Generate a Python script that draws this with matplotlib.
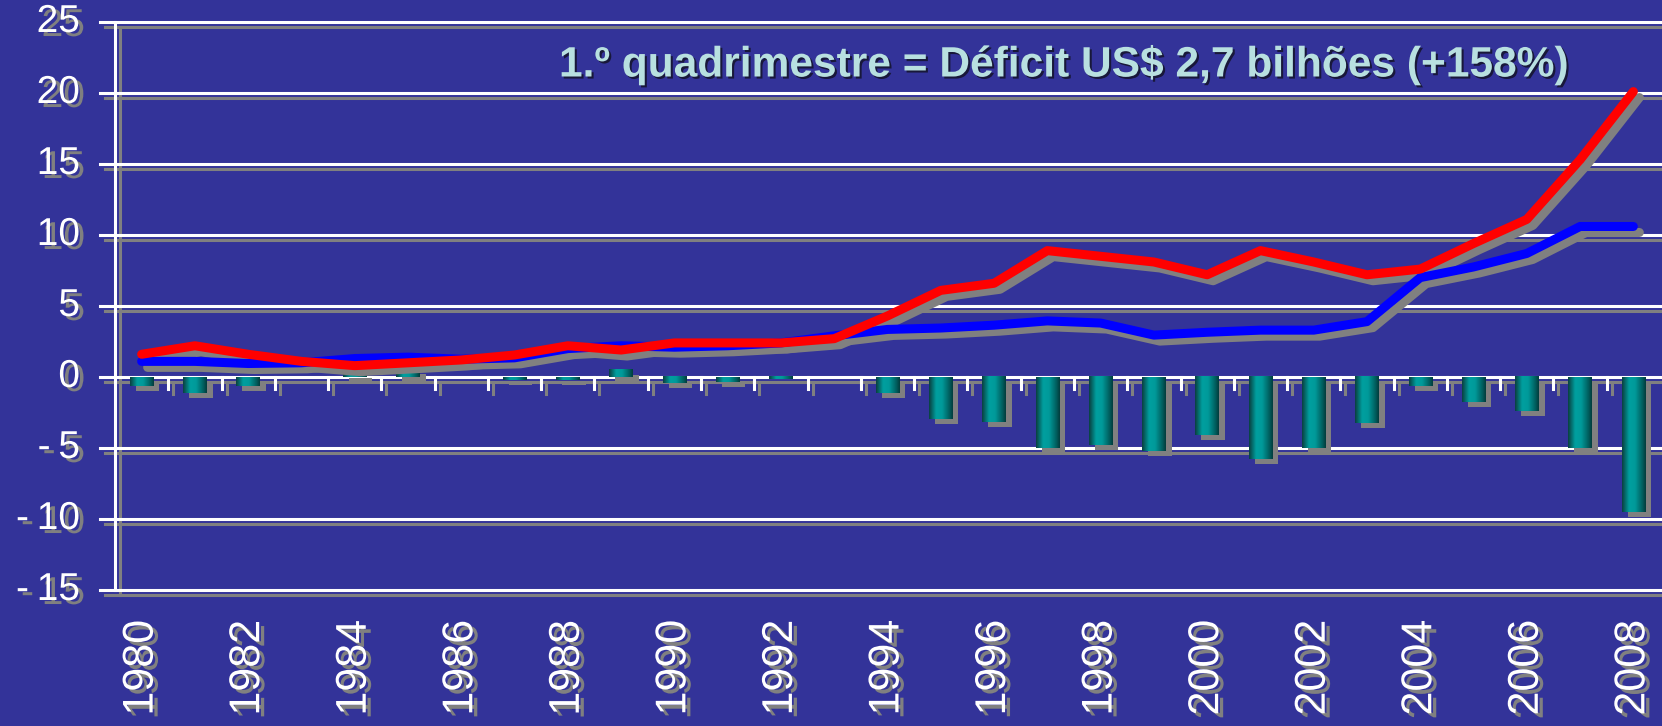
import numpy as np
import matplotlib
matplotlib.use("Agg")
import matplotlib.pyplot as plt
from matplotlib import transforms
from matplotlib import patheffects as pe
from matplotlib.colors import LinearSegmentedColormap

# data (US$ bilhões)
years = list(range(1980, 2009))
red_vals = [1.6, 2.2, 1.6, 1.1, 0.8, 1.0, 1.2, 1.55, 2.2, 1.9, 2.4, 2.4, 2.4, 2.7,
            4.3, 6.1, 6.6, 8.9, 8.5, 8.1, 7.2, 8.9, 8.1, 7.2, 7.6, 9.4, 11.1, 15.3, 20.1]
blue_vals = [1.1, 1.1, 0.95, 1.0, 1.3, 1.4, 1.25, 1.35, 2.0, 2.2, 2.1, 2.2, 2.4, 2.9,
             3.35, 3.45, 3.65, 3.95, 3.8, 2.95, 3.15, 3.3, 3.3, 3.9, 7.0, 7.75, 8.7, 10.6, 10.6]
bar_vals = [-0.6, -1.1, -0.6, 0.0, 0.3, 0.55, 0.0, -0.2, -0.2, 0.5, -0.45, -0.35, -0.15, 0.0,
            -1.1, -2.95, -3.2, -5.0, -4.8, -5.2, -4.1, -5.8, -5.0, -3.25, -0.6, -1.75, -2.4, -5.0, -9.5]
yticks = [-15, -10, -5, 0, 5, 10, 15, 20, 25]
ytick_labels = ["-\u200915", "-\u200910", "-\u20095", "0", "5", "10", "15", "20", "25"]
xtick_years = years[::2]
title = "1.º quadrimestre = Déficit US$ 2,7 bilhões (+158%)"

BG = "#333399"
SHADOW = "#808080"
plt.rcParams["font.family"] = ["Liberation Sans", "DejaVu Sans"]

fig = plt.figure(figsize=(16.62, 7.26), dpi=100, facecolor=BG)
ax = fig.add_axes([115 / 1662, 136 / 726, 1545 / 1662, 568 / 726])
ax.set_facecolor(BG)
for s in ax.spines.values():
    s.set_visible(False)
ax.set_xticks([])
ax.set_yticks([])

xpx = 1545 / 29          # pixels per category
ypx = 568 / 40           # pixels per unit


def shifted(dx, dy):
    return ax.transData + transforms.Affine2D().translate(dx, dy)


# gray drop shadow for texts, offset given in points (100 dpi)
txt_shadow = [pe.SimplePatchShadow(offset=(3.6, -2.9), shadow_rgbFace=SHADOW, alpha=1), pe.Normal()]
title_shadow = [pe.SimplePatchShadow(offset=(1.5, -1.5), shadow_rgbFace="#151530", alpha=0.9), pe.Normal()]

x = np.arange(len(years))

# grid lines + left ticks
for y in yticks:
    xs = [-0.5 - 15 / xpx, 28.5]
    ax.plot(xs, [y, y], color=SHADOW, lw=2.2, transform=shifted(5, -5), clip_on=False, zorder=1)
    ax.plot(xs, [y, y], color="white", lw=2.2, clip_on=False, zorder=2)

# left axis
ax.plot([-0.5, -0.5], [-15, 25], color=SHADOW, lw=2.2, transform=shifted(5, -5), clip_on=False, zorder=1)
ax.plot([-0.5, -0.5], [-15, 25], color="white", lw=2.2, clip_on=False, zorder=2)

# category ticks below zero
for k in range(len(years) - 1):
    ax.plot([k + 0.5] * 2, [0, -12 / ypx], color=SHADOW, lw=2.2, transform=shifted(5, -5), zorder=1)
    ax.plot([k + 0.5] * 2, [0, -12 / ypx], color="white", lw=2.2, zorder=2)

# bars with gradient
w = 0.44
teal = LinearSegmentedColormap.from_list(
    "teal", [(0, "#0a4040"), (0.3, "#00a0a0"), (0.55, "#009a9a"), (0.85, "#006060"), (1, "#033c3c")])
grad = np.linspace(0, 1, 64).reshape(1, -1)
ax.bar(x, bar_vals, width=w, color=SHADOW, transform=shifted(6, -5), zorder=3)
for xi, v in zip(x, bar_vals):
    if v == 0:
        continue
    ax.imshow(grad, extent=(xi - w / 2, xi + w / 2, min(0, v), max(0, v)), cmap=teal,
              aspect="auto", interpolation="bicubic", zorder=4)

# lines
for vals in (blue_vals, red_vals):
    ax.plot(x, vals, color=SHADOW, lw=6.5, solid_capstyle="round", transform=shifted(6, -6), zorder=6)
ax.plot(x, blue_vals, color="#0000ff", lw=6.5, solid_capstyle="round", zorder=7)
ax.plot(x, red_vals, color="#ff0000", lw=6.5, solid_capstyle="round", zorder=8)

ax.set_xlim(-0.5, 28.5)
ax.set_ylim(-15, 25)

# y tick labels
lx = -0.5 - 35 / xpx
for y, lab in zip(yticks, ytick_labels):
    ax.text(lx, y, lab, ha="right", va="center", fontsize=28, color="white",
            clip_on=False, path_effects=txt_shadow)

# x tick labels
ly = -15 - 30 / ypx
for yr in xtick_years:
    ax.text(yr - years[0], ly, str(yr), ha="center", va="top", rotation=90, fontsize=31,
            color="white", clip_on=False, path_effects=txt_shadow)

# title, sized to the reference width
tx, ty = 559 / 1662, 1 - 65 / 726
t = fig.text(tx, ty, title, ha="left", va="center", fontsize=30, fontweight="bold",
             color="#b8e0e0", zorder=20, path_effects=title_shadow)
fig.canvas.draw()
t.set_fontsize(30 * 1010 / t.get_window_extent().width)

fig.savefig("out.png", dpi=100, facecolor=BG)
